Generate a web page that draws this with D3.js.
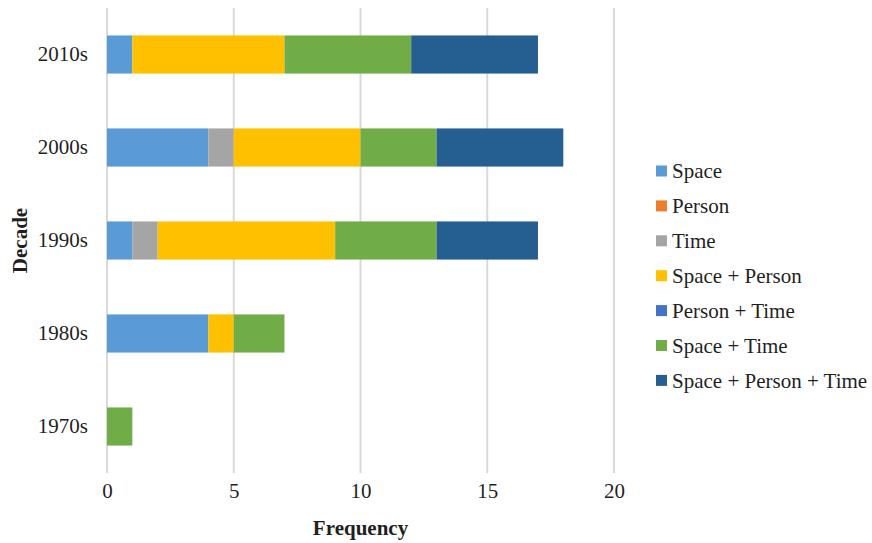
<!DOCTYPE html>
<html>
<head>
<meta charset="utf-8">
<script src="https://cdn.jsdelivr.net/npm/d3@7"></script>
</head>
<body style="margin:0;background:#fff">
<svg id="chart" width="872" height="543"></svg>
<script>
// Decades, top to bottom
const decades = ["2010s", "2000s", "1990s", "1980s", "1970s"];
// Dimension combinations, in stacking order
const seriesNames = ["Space", "Person", "Time", "Space + Person", "Person + Time", "Space + Time", "Space + Person + Time"];
const seriesColors = ["#5b9bd5", "#ed7d31", "#a5a5a5", "#ffc000", "#4472c4", "#70ad47", "#255e91"];
// Frequency per decade for each combination (same order as decades)
const space             = [1, 4, 1, 4, 0];
const person            = [0, 0, 0, 0, 0];
const time              = [0, 1, 1, 0, 0];
const spacePerson       = [6, 5, 7, 1, 0];
const personTime        = [0, 0, 0, 0, 0];
const spaceTime         = [5, 3, 4, 2, 1];
const spacePersonTime   = [5, 5, 4, 0, 0];
const xTicks = [0, 5, 10, 15, 20];

const seriesValues = [space, person, time, spacePerson, personTime, spaceTime, spacePersonTime];
const rows = decades.map((d, i) => {
  const r = { decade: d };
  seriesNames.forEach((s, j) => { r[s] = seriesValues[j][i]; });
  return r;
});

const FONT = '"Liberation Serif", "Times New Roman", serif';
const svg = d3.select("#chart");
const plot = { left: 107, right: 614, top: 8, bottom: 473 };
const textColor = "#1f1f1f";

const x = d3.scaleLinear().domain([0, 20]).range([plot.left, plot.right]);
const y = d3.scaleBand().domain(decades).range([plot.top, plot.bottom]).paddingInner(0.59).paddingOuter(0.295);

// Vertical gridlines
svg.append("g")
  .selectAll("line")
  .data(xTicks)
  .join("line")
  .attr("x1", d => x(d)).attr("x2", d => x(d))
  .attr("y1", plot.top).attr("y2", plot.bottom)
  .attr("stroke", "#d9d9d9")
  .attr("stroke-width", 2);

// Stacked bars
const stack = d3.stack().keys(seriesNames)(rows);
const color = d3.scaleOrdinal().domain(seriesNames).range(seriesColors);

svg.append("g")
  .selectAll("g")
  .data(stack)
  .join("g")
  .attr("fill", d => color(d.key))
  .selectAll("rect")
  .data(d => d.filter(p => p[1] - p[0] > 0))
  .join("rect")
  .attr("x", d => x(d[0]))
  .attr("width", d => x(d[1]) - x(d[0]))
  .attr("y", d => y(d.data.decade))
  .attr("height", y.bandwidth());

// X axis tick labels
const xAxis = d3.axisBottom(x).tickValues(xTicks).tickSize(0).tickPadding(0);
const gx = svg.append("g").attr("transform", `translate(0,${plot.bottom + 10})`).call(xAxis);
gx.select(".domain").remove();
gx.selectAll("text")
  .style("font-family", FONT)
  .style("font-size", "21px")
  .attr("fill", textColor)
  .attr("dy", "0.71em");

// Y axis tick labels
const yAxis = d3.axisLeft(y).tickSize(0).tickPadding(0);
const gy = svg.append("g").attr("transform", `translate(${plot.left - 19},0)`).call(yAxis);
gy.select(".domain").remove();
gy.selectAll("text")
  .style("font-family", FONT)
  .style("font-size", "21px")
  .attr("fill", textColor);

// Axis titles
svg.append("text")
  .attr("x", (plot.left + plot.right) / 2)
  .attr("y", 535)
  .attr("text-anchor", "middle")
  .style("font-family", FONT)
  .style("font-size", "21px")
  .style("font-weight", "bold")
  .attr("fill", textColor)
  .text("Frequency");

svg.append("text")
  .attr("transform", `translate(27,${(plot.top + plot.bottom) / 2}) rotate(-90)`)
  .attr("text-anchor", "middle")
  .style("font-family", FONT)
  .style("font-size", "21px")
  .style("font-weight", "bold")
  .attr("fill", textColor)
  .text("Decade");

// Legend
const legend = svg.append("g").attr("transform", "translate(656,171)");
const item = legend.selectAll("g")
  .data(seriesNames)
  .join("g")
  .attr("transform", (d, i) => `translate(0,${i * 34.9})`);
item.append("rect")
  .attr("x", 0).attr("y", -5.5)
  .attr("width", 11).attr("height", 11)
  .attr("fill", d => color(d));
item.append("text")
  .attr("x", 16)
  .attr("dy", "0.35em")
  .style("font-family", FONT)
  .style("font-size", "21px")
  .attr("fill", textColor)
  .text(d => d);
</script>
</body>
</html>
